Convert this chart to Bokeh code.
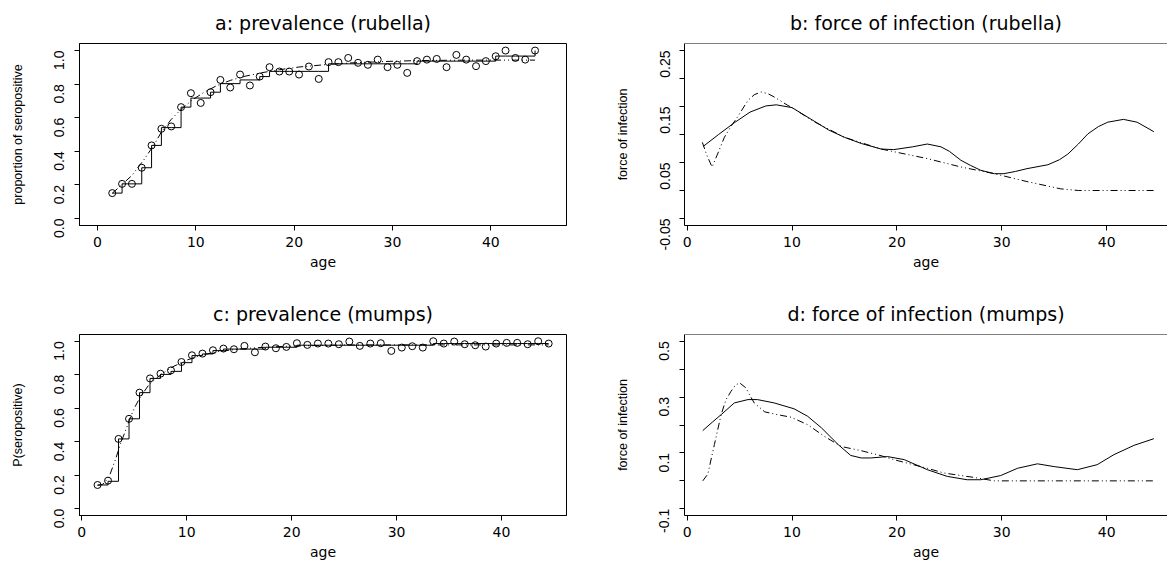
import math
from bokeh.plotting import figure
from bokeh.layouts import gridplot
from bokeh.models import Range1d, FixedTicker, PrintfTickFormatter, Span
from bokeh.embed import file_html
from bokeh.resources import INLINE

# ---------------- data ----------------
ages = [1.5, 2.5, 3.5, 4.5, 5.5, 6.5, 7.5, 8.5, 9.5, 10.5, 11.5, 12.5, 13.5, 14.5,
        15.5, 16.5, 17.5, 18.5, 19.5, 20.5, 21.5, 22.5, 23.5, 24.5, 25.5, 26.5, 27.5,
        28.5, 29.5, 30.5, 31.5, 32.5, 33.5, 34.5, 35.5, 36.5, 37.5, 38.5, 39.5, 40.5,
        41.5, 42.5, 43.5, 44.5]

rubella_prev = [0.151, 0.206, 0.206, 0.302, 0.435, 0.534, 0.548, 0.663, 0.746, 0.688,
                0.752, 0.825, 0.780, 0.857, 0.792, 0.845, 0.901, 0.875, 0.875, 0.857,
                0.905, 0.831, 0.931, 0.931, 0.956, 0.927, 0.915, 0.946, 0.901, 0.915,
                0.867, 0.937, 0.946, 0.950, 0.901, 0.974, 0.946, 0.907, 0.937, 0.966,
                1.000, 0.956, 0.946, 1.000]
rubella_iso = [0.151, 0.206, 0.206, 0.302, 0.435, 0.541, 0.541, 0.663, 0.717, 0.717,
               0.752, 0.803, 0.803, 0.825, 0.825, 0.845, 0.876, 0.876, 0.876, 0.876,
               0.876, 0.876, 0.921, 0.921, 0.921, 0.921, 0.921, 0.921, 0.921, 0.921,
               0.921, 0.937, 0.937, 0.937, 0.937, 0.937, 0.937, 0.937, 0.937, 0.967,
               0.967, 0.967, 0.967, 1.000]
rubella_fit_age = [1.5, 2.4, 3.5, 4.8, 5.8, 6.5, 7.5, 8.5, 9.6, 10.8, 12.1, 13.5, 15.0,
                   16.7, 18.5, 20.5, 23.0, 26.0, 29.3, 32.4, 35.6, 38.0, 44.5]
rubella_fit = [0.150, 0.197, 0.256, 0.356, 0.443, 0.515, 0.590, 0.650, 0.704, 0.750,
               0.790, 0.822, 0.847, 0.868, 0.886, 0.902, 0.915, 0.927, 0.935, 0.940,
               0.942, 0.943, 0.943]

mumps_prev = [0.142, 0.168, 0.417, 0.537, 0.693, 0.778, 0.806, 0.826, 0.876, 0.916,
              0.926, 0.946, 0.956, 0.952, 0.972, 0.934, 0.968, 0.958, 0.966, 0.988,
              0.978, 0.986, 0.986, 0.982, 0.998, 0.972, 0.986, 0.988, 0.942, 0.962,
              0.970, 0.962, 1.000, 0.986, 0.998, 0.982, 0.976, 0.968, 0.986, 0.990,
              0.990, 0.982, 1.000, 0.986]
mumps_iso = [0.142, 0.164, 0.417, 0.537, 0.693, 0.778, 0.802, 0.820, 0.872, 0.914,
             0.924, 0.944, 0.953, 0.953, 0.953, 0.953, 0.964, 0.964, 0.964, 0.976,
             0.976, 0.976, 0.976, 0.976, 0.976, 0.976, 0.976, 0.976, 0.976, 0.976,
             0.976, 0.976, 0.986, 0.986, 0.986, 0.986, 0.986, 0.986, 0.986, 0.986,
             0.986, 0.986, 0.986, 0.986]
mumps_fit_age = [1.5, 2.0, 2.6, 3.24, 3.7, 4.19, 4.6, 5.0, 5.6, 6.4, 7.4, 8.6, 9.9, 11.5,
                 13.1, 14.7, 16.6, 18.5, 19.7, 22.9, 24.5, 27.4, 29.3, 44.5]
mumps_fit = [0.140, 0.146, 0.190, 0.300, 0.390, 0.470, 0.540, 0.600, 0.670, 0.740,
             0.795, 0.845, 0.885, 0.918, 0.939, 0.951, 0.961, 0.967, 0.970, 0.975,
             0.977, 0.978, 0.978, 0.978]

# force of infection, rubella
foi_r_age = [1.55, 3.0, 4.5, 6.0, 7.5, 8.5, 10.0, 12.1, 13.5, 15.0, 16.6, 18.5, 19.7,
             21.5, 22.9, 24.2, 25.0, 26.1, 27.0, 28.0, 29.3, 30.2, 31.3, 32.4, 34.4,
             35.5, 36.3, 37.3, 38.2, 39.2, 40.1, 41.6, 42.9, 44.5]
foi_r = [0.079, 0.100, 0.121, 0.140, 0.151, 0.153, 0.148, 0.124, 0.108, 0.095, 0.084,
         0.074, 0.073, 0.078, 0.083, 0.078, 0.070, 0.054, 0.045, 0.036, 0.030, 0.030,
         0.034, 0.039, 0.046, 0.055, 0.065, 0.083, 0.101, 0.114, 0.122, 0.127, 0.122,
         0.105]
foi_r_fit_age = [1.45, 1.9, 2.38, 2.9, 3.55, 4.2, 4.8, 5.8, 6.4, 7.05, 7.7, 8.3, 9.6,
                 10.0, 12.1, 15.0, 18.5, 22.9, 26.1, 29.3, 32.4, 35.6, 37.3, 44.5]
foi_r_fit = [0.086, 0.062, 0.042, 0.065, 0.095, 0.115, 0.131, 0.161, 0.171, 0.176,
             0.173, 0.167, 0.152, 0.148, 0.123, 0.095, 0.074, 0.057, 0.042, 0.030,
             0.016, 0.003, 0.000, 0.000]

# force of infection, mumps
foi_m_age = [1.49, 2.4, 3.24, 4.5, 5.8, 6.7, 8.3, 10.2, 11.5, 12.8, 14.4, 15.6, 16.6,
             17.5, 18.5, 19.1, 20.7, 22.9, 24.8, 26.7, 28.0, 29.9, 31.5, 33.4, 35.0,
             37.2, 39.1, 40.7, 42.6, 44.5]
foi_m = [0.180, 0.210, 0.237, 0.279, 0.291, 0.291, 0.279, 0.258, 0.231, 0.190, 0.130,
         0.091, 0.082, 0.082, 0.085, 0.087, 0.076, 0.040, 0.016, 0.004, 0.004, 0.019,
         0.045, 0.061, 0.051, 0.040, 0.058, 0.094, 0.127, 0.151]
foi_m_fit_age = [1.49, 1.97, 2.6, 3.24, 3.7, 4.19, 4.6, 5.0, 5.6, 6.0, 6.4, 7.4, 8.6,
                 9.9, 11.5, 13.1, 14.7, 16.6, 18.5, 19.7, 22.9, 24.5, 27.4, 29.3, 44.5]
foi_m_fit = [0.000, 0.024, 0.130, 0.237, 0.290, 0.321, 0.342, 0.351, 0.333, 0.305,
             0.279, 0.247, 0.237, 0.228, 0.201, 0.159, 0.123, 0.108, 0.090, 0.076,
             0.045, 0.028, 0.012, 0.000, 0.000]

x_ticks = [0, 10, 20, 30, 40]
prev_ticks = [0.0, 0.2, 0.4, 0.6, 0.8, 1.0]
foi_r_ticks = [-0.05, 0.05, 0.15, 0.25]
foi_r_minor = [0.0, 0.10, 0.20]
foi_m_ticks = [-0.1, 0.1, 0.3, 0.5]
foi_m_minor = [0.0, 0.2, 0.4]

DASH = "7 3 1 3 1 3"


def make_fig(w, h, left, right, top, bottom, xr, yr, title, ylabel,
             yticks, yminor, yfmt, boxed):
    p = figure(width=w, height=h, x_range=Range1d(*xr), y_range=Range1d(*yr),
               output_backend="svg", toolbar_location=None,
               min_border_left=left, min_border_right=right,
               min_border_top=top, min_border_bottom=bottom, title=title)
    p.grid.visible = False
    p.title.align = "center"
    p.title.text_font = "DejaVu Sans"
    p.title.text_font_size = "19px"
    p.title.text_font_style = "normal"
    p.title.text_color = "black"
    p.title.standoff = 19

    xa = p.below[0]
    xa.ticker = FixedTicker(ticks=x_ticks, minor_ticks=[])
    xa.formatter = PrintfTickFormatter(format="%d")
    xa.major_tick_in = 0
    xa.major_tick_out = 5
    xa.axis_line_color = "black"
    xa.major_tick_line_color = "black"
    xa.major_label_text_font = "DejaVu Sans"
    xa.major_label_text_font_size = "14px"
    xa.major_label_text_color = "black"
    xa.major_label_standoff = 6
    xa.axis_label = "age"
    xa.axis_label_text_font = "DejaVu Sans"
    xa.axis_label_text_font_size = "14px"
    xa.axis_label_text_font_style = "normal"
    xa.axis_label_text_color = "black"
    xa.axis_label_standoff = 4

    ya = p.left[0]
    ya.ticker = FixedTicker(ticks=yticks, minor_ticks=yminor)
    ya.formatter = PrintfTickFormatter(format=yfmt)
    ya.major_tick_in = 0
    ya.major_tick_out = 5
    ya.minor_tick_in = 0
    ya.minor_tick_out = 5
    ya.minor_tick_line_color = "black"
    ya.axis_line_color = "black"
    ya.major_tick_line_color = "black"
    ya.major_label_orientation = math.pi / 2
    ya.major_label_text_font = "Liberation Sans"
    ya.major_label_text_font_size = "14px"
    ya.major_label_text_color = "black"
    ya.major_label_standoff = 15
    ya.axis_label = ylabel
    ya.axis_label_text_font = "Liberation Sans"
    ya.axis_label_text_font_size = "12.5px"
    ya.axis_label_text_font_style = "normal"
    ya.axis_label_text_color = "black"
    ya.axis_label_standoff = 22

    if boxed:
        p.outline_line_color = "black"
        p.outline_line_alpha = 1.0
        p.outline_line_width = 1
    else:
        # frame runs past the right edge of the picture: only top, left, bottom visible
        p.outline_line_color = None
        p.add_layout(Span(location=yr[1], dimension="width",
                          line_color="black", line_width=1))
    return p


pa = make_fig(580, 285, 78, 14, 43, 60, (-1.83, 47.7), (-0.042, 1.042),
              "a: prevalence (rubella)", "proportion of seropositive",
              prev_ticks, [], "%.1f", True)
pa.step(ages, rubella_iso, mode="after", line_color="black", line_width=1)
pa.line(rubella_fit_age, rubella_fit, line_color="black", line_width=1, line_dash=DASH)
pa.scatter(ages, rubella_prev, marker="circle", size=7, fill_color=None,
           line_color="black", line_width=1)

pb = make_fig(587, 285, 104, 0, 43, 60, (-0.25, 45.8), (-0.0625, 0.2625),
              "b: force of infection (rubella)", "force of infection",
              foi_r_ticks, foi_r_minor, "%.2f", False)
pb.line(foi_r_age, foi_r, line_color="black", line_width=1)
pb.line(foi_r_fit_age, foi_r_fit, line_color="black", line_width=1, line_dash=DASH)

pc = make_fig(580, 288, 79, 14, 49, 58, (-0.22, 46.2), (-0.04, 1.04),
              "c: prevalence (mumps)", "P(seropositive)",
              prev_ticks, [], "%.1f", True)
pc.step(ages, mumps_iso, mode="after", line_color="black", line_width=1)
pc.line(mumps_fit_age, mumps_fit, line_color="black", line_width=1, line_dash=DASH)
pc.scatter(ages, mumps_prev, marker="circle", size=7, fill_color=None,
           line_color="black", line_width=1)

pd_ = make_fig(587, 288, 104, 0, 49, 58, (-0.25, 45.8), (-0.124, 0.524),
               "d: force of infection (mumps)", "force of infection",
               foi_m_ticks, foi_m_minor, "%.1f", False)
pd_.line(foi_m_age, foi_m, line_color="black", line_width=1)
pd_.line(foi_m_fit_age, foi_m_fit, line_color="black", line_width=1, line_dash=DASH)

layout = gridplot([[pa, pb], [pc, pd_]], toolbar_location=None)

open("out.html", "w").write(file_html(layout, INLINE))
